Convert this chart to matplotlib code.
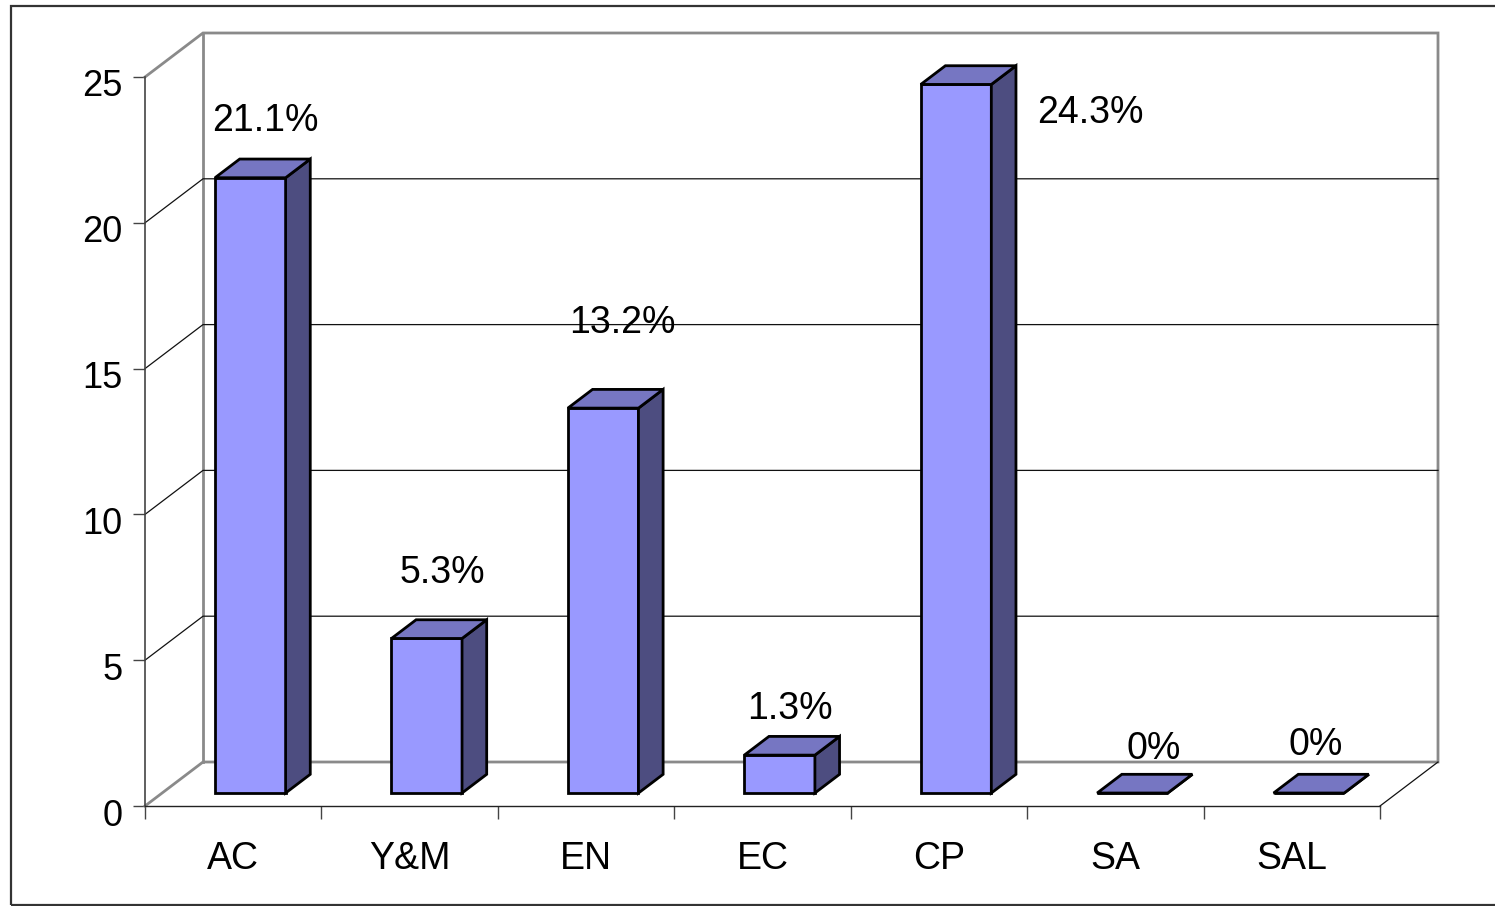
import numpy as np
import matplotlib
matplotlib.use("Agg")
import matplotlib.pyplot as plt
from matplotlib.patches import Polygon, Rectangle
import matplotlib.transforms as mtransforms

plt.rcParams['font.family'] = ['Liberation Sans', 'DejaVu Sans']

# data
categories = ['AC', 'Y&M', 'EN', 'EC', 'CP', 'SA', 'SAL']
values = [21.1, 5.3, 13.2, 1.3, 24.3, 0, 0]
labels = ['21.1%', '5.3%', '13.2%', '1.3%', '24.3%', '0%', '0%']
yticks = [0, 5, 10, 15, 20, 25]

# label offsets (pixels) from the top-front centre of each bar
label_offsets = [(15, 57), (16, 65), (19, 85), (10, 46), (134, -29), (21, 44), (7, 48)]

W, H = 1495, 906
fig = plt.figure(figsize=(W / 100, H / 100), dpi=100)
ax = fig.add_axes([0, 0, 1, 1])

# pixel -> data mapping of the front plane
x0_px, cat_px = 145, (1380 - 145) / 7
y0_px, unit_px = 806, (806 - 77) / 25
ax.set_xlim(-x0_px / cat_px, (W - x0_px) / cat_px)
ax.set_ylim((y0_px - H) / unit_px, y0_px / unit_px)

# oblique depth (full depth of the floor)
DX, DY = 58 / cat_px, 44 / unit_px
ymax = yticks[-1]
ncat = len(categories)


def p(x, y, d):
    return (x + DX * d, y + DY * d)


gray = '#8a8a8a'
# back wall and floor outline
ax.plot(*zip(p(0, ymax, 0), p(0, ymax, 1), p(ncat, ymax, 1), p(ncat, 0, 1), p(0, 0, 1), p(0, 0, 0)),
        color=gray, lw=2, solid_joinstyle='miter', zorder=2)
ax.plot(*zip(p(0, 0, 1), p(0, ymax, 1)), color=gray, lw=2, zorder=2)
# gridlines on side and back wall
for v in yticks[1:-1]:
    ax.plot(*zip(p(0, v, 0), p(0, v, 1), p(ncat, v, 1)), color='#111111', lw=0.9, zorder=2)
# floor right edge
ax.plot(*zip(p(ncat, 0, 0), p(ncat, 0, 1)), color='#111111', lw=0.9, zorder=2)

# axes spines
for s in ['top', 'right']:
    ax.spines[s].set_visible(False)
ax.spines['left'].set_position(('data', 0))
ax.spines['left'].set_bounds(0, ymax)
ax.spines['left'].set_color('#444444')
ax.spines['left'].set_linewidth(1.2)
ax.spines['bottom'].set_position(('data', 0))
ax.spines['bottom'].set_bounds(0, ncat)
ax.spines['bottom'].set_color('#222222')
ax.spines['bottom'].set_linewidth(1.0)

ax.set_yticks(yticks)
ax.set_yticklabels([str(t) for t in yticks], fontsize=26)
ax.tick_params(axis='y', direction='out', length=9, width=1, color='#444444', pad=7)
shift = mtransforms.ScaledTranslation(0, -6 / 100, fig.dpi_scale_trans)
for lab in ax.get_yticklabels():
    lab.set_transform(lab.get_transform() + shift)

ax.set_xticks(np.arange(ncat + 1))
ax.set_xticklabels([])
ax.set_xticks(np.arange(ncat) + 0.5, minor=True)
ax.set_xticklabels(categories, minor=True, fontsize=27)
ax.tick_params(axis='x', which='major', direction='out', length=9, width=1, color='#444444')
ax.tick_params(axis='x', which='minor', length=0, pad=25)

# 3D bars
front_c, top_c, side_c = '#9999FF', '#7676C2', '#4D4D80'
bw = 0.40
d0, d1 = 0.295, 0.72
for i, v in enumerate(values):
    xl, xr = i + 0.5 - bw / 2, i + 0.5 + bw / 2
    front = [p(xl, 0, d0), p(xr, 0, d0), p(xr, v, d0), p(xl, v, d0)]
    side = [p(xr, 0, d0), p(xr, 0, d1), p(xr, v, d1), p(xr, v, d0)]
    top = [p(xl, v, d0), p(xr, v, d0), p(xr, v, d1), p(xl, v, d1)]
    for poly, c in [(front, front_c), (side, side_c), (top, top_c)]:
        ax.add_patch(Polygon(poly, closed=True, facecolor=c, edgecolor='black',
                             lw=2.0, joinstyle='miter', zorder=3))
    cx, cy = p(i + 0.5, v, d0)
    ax.annotate(labels[i], (cx, cy), xytext=label_offsets[i], textcoords='offset pixels',
                ha='center', va='center', fontsize=27, zorder=4)

# outer frame
fig.add_artist(Rectangle((11 / W, 1 - 905 / H), 1.0, (905 - 6) / H, transform=fig.transFigure,
                         fill=False, edgecolor='#333333', lw=1.6))

fig.savefig('out.png', dpi=100)
